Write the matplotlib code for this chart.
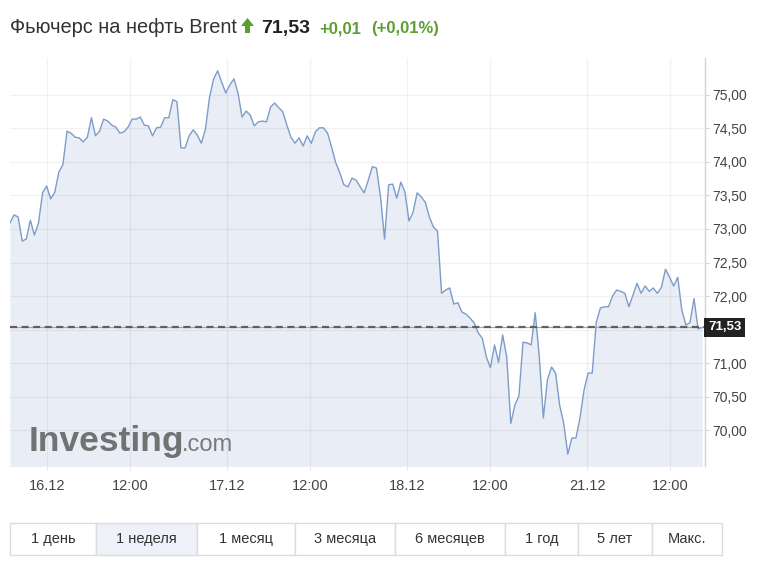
import matplotlib
matplotlib.use("Agg")
import matplotlib.pyplot as plt
from matplotlib.patches import Rectangle, Polygon
from matplotlib.transforms import blended_transform_factory

plt.rcParams['font.family'] = ['Liberation Sans', 'DejaVu Sans']

# ---------------- data ----------------
title = "Фьючерс на нефть Brent"
last_price = "71,53"
change_abs = "+0,01"
change_pct = "(+0,01%)"

# 30-minute closes (bar index = position on the trading-time axis)
prices = [
    73.09, 73.21, 73.18, 72.82, 72.85, 73.13, 72.91, 73.09, 73.54, 73.64,
    73.45, 73.55, 73.85, 73.96, 74.46, 74.43, 74.37, 74.36, 74.30, 74.37,
    74.66, 74.39, 74.46, 74.64, 74.61, 74.55, 74.52, 74.43, 74.45, 74.52,
    74.64, 74.64, 74.67, 74.55, 74.54, 74.39, 74.51, 74.52, 74.66, 74.66,
    74.93, 74.90, 74.21, 74.21, 74.39, 74.48, 74.40, 74.28, 74.49, 74.96,
    75.24, 75.36, 75.19, 75.03, 75.15, 75.24, 75.03, 74.67, 74.76, 74.70,
    74.54, 74.60, 74.61, 74.60, 74.82, 74.88, 74.81, 74.75, 74.55, 74.37,
    74.28, 74.36, 74.24, 74.39, 74.28, 74.45, 74.51, 74.51, 74.43, 74.22,
    73.99, 73.84, 73.66, 73.63, 73.76, 73.73, 73.63, 73.54, 73.73, 73.93,
    73.91, 73.48, 72.85, 73.66, 73.67, 73.46, 73.70, 73.55, 73.12, 73.25,
    73.54, 73.48, 73.40, 73.18, 73.03, 72.97, 72.04, 72.09, 72.12, 71.88,
    71.90, 71.76, 71.73, 71.67, 71.60, 71.45, 71.37, 71.09, 70.93, 71.27,
    71.01, 71.42, 71.09, 70.10, 70.37, 70.51, 71.31, 71.30, 71.27, 71.75,
    71.09, 70.18, 70.75, 70.94, 70.85, 70.37, 70.10, 69.64, 69.88, 69.88,
    70.18, 70.60, 70.85, 70.85, 71.61, 71.82, 71.84, 71.84, 72.00, 72.09,
    72.07, 72.04, 71.84, 72.01, 72.19, 72.04, 72.15, 72.07, 72.12, 72.04,
    72.13, 72.40, 72.28, 72.15, 72.28, 71.79, 71.57, 71.60, 71.96, 71.51,
    71.53,
]
bars = list(range(len(prices)))
ref_price = 71.53

x_tick_pos = [9.1, 29.5, 53.3, 73.7, 97.5, 117.9, 141.8, 162.2]
x_tick_labels = ["16.12", "12:00", "17.12", "12:00", "18.12", "12:00", "21.12", "12:00"]
y_ticks = [70.0, 70.5, 71.0, 72.0, 72.5, 73.0, 73.5, 74.0, 74.5, 75.0]
y_grid = [70.0, 70.5, 71.0, 71.5, 72.0, 72.5, 73.0, 73.5, 74.0, 74.5, 75.0]

periods = ["1 день", "1 неделя", "1 месяц", "3 месяца", "6 месяцев", "1 год", "5 лет", "Макс."]
period_widths = [86, 101, 98, 100, 110, 73, 74, 70]
active_period = 1

# ---------------- figure ----------------
W, H = 781, 566
fig = plt.figure(figsize=(W / 100, H / 100), dpi=100)
fig.patch.set_facecolor("white")

def fx(px):
    return px / W

def fy(py):
    return 1 - py / H

ax = fig.add_axes([fx(10), fy(466), (705 - 10) / W, (466 - 58) / H])
ax.set_facecolor("white")
ax.set_xlim(0, 170.7)
ax.set_ylim(69.463, 75.552)

line_col = "#7d9cc9"
fill_col = "#e9edf5"
ax.fill_between(bars, prices, 69.0, color=fill_col, lw=0, zorder=1)
ax.plot(bars, prices, color=line_col, lw=1.0, zorder=4, solid_joinstyle="round")

# grid
for v in y_grid:
    ax.axhline(v, color="black", alpha=0.05, lw=0.9, zorder=2)
for x in x_tick_pos:
    ax.axvline(x, color="black", alpha=0.05, lw=0.9, zorder=2)

# reference line
ax.axhline(ref_price, color="#e58a85", lw=0.8, zorder=5)
ax.axhline(ref_price, color="#555555", lw=1.6, linestyle=(0, (3.2, 2.0)), zorder=6, alpha=0.9)

# axes styling
for s in ["top", "left", "bottom"]:
    ax.spines[s].set_visible(False)
ax.spines["right"].set_color("#d4d4d4")
ax.spines["right"].set_linewidth(1.0)

ax.yaxis.tick_right()
ax.set_yticks(y_ticks)
ax.set_yticklabels([f"{v:.2f}".replace(".", ",") for v in y_ticks])
ax.set_xticks(x_tick_pos)
ax.set_xticklabels(x_tick_labels)
ax.tick_params(axis="y", length=3, color="#d4d4d4", pad=2.5, labelsize=10, labelcolor="#444444")
ax.tick_params(axis="x", length=3, color="#e6e6e6", pad=6, labelsize=10.5, labelcolor="#444444")

# price flag on the right axis
tr = blended_transform_factory(ax.transAxes, ax.transData)
ax.text(1.0 + 3 / 695, ref_price, last_price, transform=tr, ha="left", va="center",
        fontsize=9.5, fontweight="bold", color="white", zorder=10, clip_on=False,
        bbox=dict(boxstyle="square,pad=0.28", fc="#222222", ec="none"))

# watermark
fig.text(fx(29), fy(451), "Investing", fontsize=25.5, fontweight="bold", color="#727272",
         ha="left", va="baseline")
fig.text(fx(182), fy(451), ".com", fontsize=17, color="#7a7a7a", ha="left", va="baseline")

# ---------------- header ----------------
green = "#5c9e31"
fig.text(fx(10), fy(33), title, fontsize=14.4, color="#333333", ha="left", va="baseline")
arrow = Polygon([(fx(241), fy(26)), (fx(247.5), fy(18)), (fx(254), fy(26)),
                 (fx(250), fy(26)), (fx(250), fy(33)), (fx(245), fy(33)), (fx(245), fy(26))],
                closed=True, transform=fig.transFigure, fc=green, ec="none")
fig.patches.append(arrow)
fig.text(fx(261), fy(33), last_price, fontsize=14, fontweight="bold", color="#222222",
         ha="left", va="baseline")
fig.text(fx(319), fy(33), change_abs, fontsize=12, fontweight="bold", color=green,
         ha="left", va="baseline")
fig.text(fx(371), fy(33), change_pct, fontsize=12, fontweight="bold", color=green,
         ha="left", va="baseline")

# ---------------- period buttons ----------------
top, bot = 523, 555
x0 = 10
for i, (lab, w) in enumerate(zip(periods, period_widths)):
    fc = "#eef2f8" if i == active_period else "white"
    rect = Rectangle((fx(x0), fy(bot)), w / W, (bot - top) / H, transform=fig.transFigure,
                     fc=fc, ec="#dcdcdc", lw=1.0)
    fig.patches.append(rect)
    fig.text(fx(x0 + w / 2), fy((top + bot) / 2), lab, fontsize=10.5, color="#333333",
             ha="center", va="center")
    x0 += w

fig.savefig("out.png", dpi=100)
